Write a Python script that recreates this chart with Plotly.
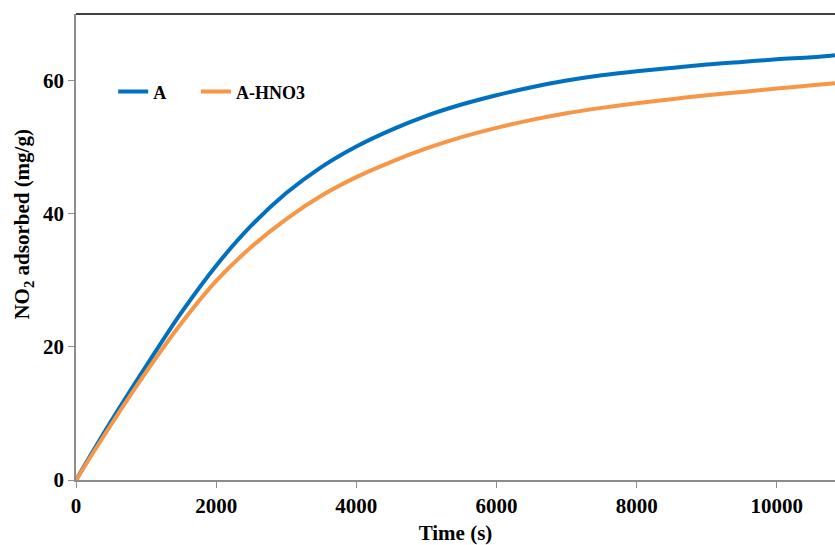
import plotly.graph_objects as go

time_s = [0, 500, 1000, 1500, 2000, 2500, 3000, 3500, 4000, 4500, 5000, 5500,
          6000, 6500, 7000, 7500, 8000, 8500, 9000, 9500, 10000, 10500, 10830]
a_vals = [0, 8.8, 17.1, 25.1, 32.2, 38.2, 43.1, 47.0, 50.1, 52.6, 54.7, 56.4,
          57.8, 59.0, 60.0, 60.8, 61.4, 61.9, 62.4, 62.8, 63.2, 63.5, 63.8]
hno3_vals = [0, 8.3, 16.2, 23.5, 29.9, 35.0, 39.2, 42.7, 45.5, 47.8, 49.8, 51.5,
             52.9, 54.1, 55.1, 55.9, 56.6, 57.2, 57.8, 58.3, 58.8, 59.3, 59.6]
series_names = ["A", "A-HNO3"]
x_ticks = [0, 2000, 4000, 6000, 8000, 10000]
y_ticks = [0, 20, 40, 60]

FONT = "Liberation Serif, Times New Roman, serif"
AXIS_GREY = "#8c8c8c"
BOLD21 = dict(family=FONT, size=21, color="black", weight="bold")
LEG_FONT = dict(family=FONT, size=18, color="black", weight="bold")

fig = go.Figure()
fig.add_trace(go.Scatter(x=time_s, y=a_vals, mode="lines", name=series_names[0],
                         legend="legend",
                         line=dict(color="#0070c0", width=4, shape="spline", smoothing=1.0)))
fig.add_trace(go.Scatter(x=time_s, y=hno3_vals, mode="lines", name=series_names[1],
                         legend="legend2",
                         line=dict(color="#f79646", width=4, shape="spline", smoothing=1.0)))

fig.update_layout(
    width=835, height=545,
    margin=dict(l=76, r=0, t=14, b=65),
    paper_bgcolor="white", plot_bgcolor="white",
    font=dict(family=FONT, size=21, color="black"),
    showlegend=True,
    legend=dict(orientation="h", x=0.049, y=0.833, xanchor="left", yanchor="middle",
                font=LEG_FONT, bgcolor="rgba(0,0,0,0)", itemwidth=30),
    legend2=dict(orientation="h", x=0.158, y=0.833, xanchor="left", yanchor="middle",
                 font=LEG_FONT, bgcolor="rgba(0,0,0,0)", itemwidth=30),
    xaxis=dict(range=[0, 10830], tickvals=x_ticks, ticktext=[str(v) for v in x_ticks],
               showgrid=False, zeroline=False, showline=True, linecolor=AXIS_GREY, linewidth=1.5,
               ticks="outside", ticklen=6, tickcolor=AXIS_GREY, tickwidth=1,
               tickfont=BOLD21,
               title=dict(text="Time (s)", font=BOLD21, standoff=8)),
    yaxis=dict(range=[0, 70], tickvals=y_ticks, ticktext=[str(v) for v in y_ticks],
               showgrid=False, zeroline=False, showline=True, linecolor=AXIS_GREY, linewidth=1.5,
               ticks="outside", ticklen=6, tickcolor=AXIS_GREY, tickwidth=1,
               tickfont=BOLD21),
    shapes=[dict(type="line", xref="paper", yref="paper", x0=0, x1=1, y0=1, y1=1,
                 line=dict(color="black", width=1.5))],
    annotations=[dict(text="NO<sub>2</sub> adsorbed (mg/g)", textangle=-90,
                      xref="paper", yref="paper", x=-0.07, y=0.55, xanchor="center", yanchor="middle",
                      showarrow=False, font=BOLD21)],
)

fig.write_html("out.html")
